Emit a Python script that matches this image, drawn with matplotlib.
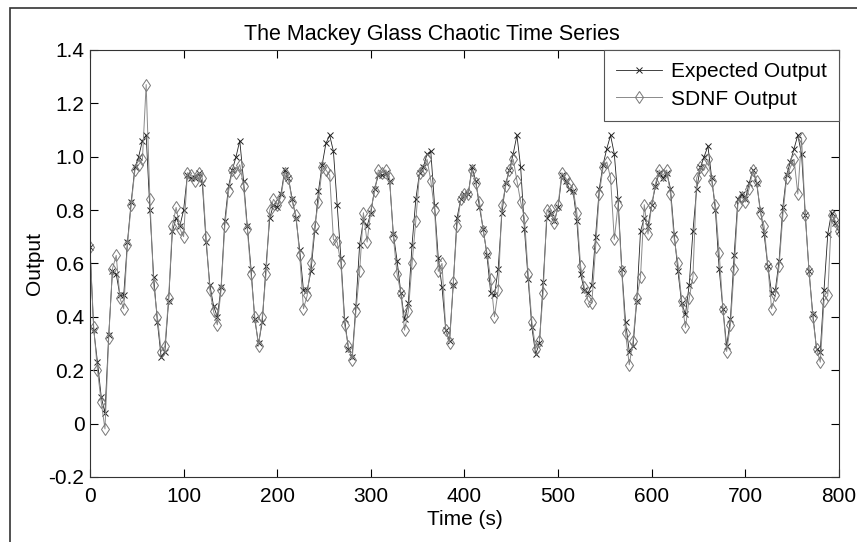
import matplotlib
matplotlib.use('Agg')
import matplotlib.pyplot as plt
from matplotlib.patches import Rectangle
import numpy as np

plt.rc('font', family=['Liberation Sans', 'DejaVu Sans'], size=15)

# tiempo (s), una muestra cada 4 s
time = np.arange(0, 801, 4)

expected = [
    0.66, 0.35, 0.23, 0.10, 0.04, 0.33, 0.57, 0.56, 0.48, 0.48,
    0.68, 0.83, 0.96, 1.00, 1.06, 1.08, 0.80, 0.55, 0.38, 0.25,
    0.27, 0.46, 0.72, 0.77, 0.74, 0.80, 0.93, 0.92, 0.92, 0.94,
    0.90, 0.68, 0.52, 0.44, 0.40, 0.51, 0.76, 0.89, 0.95, 1.00,
    1.06, 0.91, 0.74, 0.58, 0.39, 0.30, 0.38, 0.59, 0.77, 0.82,
    0.81, 0.86, 0.95, 0.92, 0.84, 0.77, 0.65, 0.50, 0.50, 0.57,
    0.72, 0.87, 0.97, 1.05, 1.08, 1.02, 0.82, 0.62, 0.39, 0.28,
    0.25, 0.44, 0.67, 0.76, 0.74, 0.79, 0.88, 0.93, 0.93, 0.94,
    0.91, 0.71, 0.61, 0.49, 0.39, 0.45, 0.67, 0.84, 0.94, 0.96,
    1.01, 1.02, 0.82, 0.62, 0.51, 0.35, 0.31, 0.52, 0.77, 0.84,
    0.86, 0.86, 0.96, 0.91, 0.81, 0.73, 0.63, 0.49, 0.48, 0.58,
    0.79, 0.90, 0.95, 1.01, 1.08, 0.96, 0.73, 0.54, 0.36, 0.26,
    0.30, 0.53, 0.77, 0.79, 0.76, 0.81, 0.93, 0.91, 0.88, 0.87,
    0.76, 0.56, 0.50, 0.49, 0.52, 0.70, 0.88, 0.97, 1.03, 1.08,
    1.01, 0.84, 0.58, 0.38, 0.27, 0.29, 0.46, 0.72, 0.77, 0.74,
    0.82, 0.89, 0.94, 0.92, 0.94, 0.88, 0.71, 0.57, 0.45, 0.41,
    0.52, 0.72, 0.88, 0.96, 1.00, 1.04, 0.92, 0.80, 0.58, 0.43,
    0.29, 0.39, 0.63, 0.84, 0.86, 0.84, 0.90, 0.95, 0.90, 0.80,
    0.71, 0.59, 0.49, 0.50, 0.61, 0.81, 0.93, 0.98, 1.03, 1.08,
    1.01, 0.78, 0.57, 0.41, 0.28, 0.27, 0.50, 0.71, 0.79, 0.75,
    0.72,
]

sdnf = [
    0.66, 0.36, 0.20, 0.08, -0.02, 0.32, 0.58, 0.63, 0.47, 0.43,
    0.67, 0.82, 0.95, 0.97, 0.99, 1.27, 0.84, 0.52, 0.40, 0.27,
    0.29, 0.47, 0.74, 0.81, 0.73, 0.70, 0.94, 0.93, 0.91, 0.94,
    0.92, 0.70, 0.50, 0.42, 0.37, 0.50, 0.74, 0.87, 0.95, 0.94,
    0.97, 0.89, 0.73, 0.56, 0.40, 0.29, 0.40, 0.56, 0.80, 0.84,
    0.82, 0.85, 0.94, 0.92, 0.83, 0.78, 0.63, 0.43, 0.48, 0.60,
    0.74, 0.83, 0.96, 0.95, 0.93, 0.69, 0.68, 0.60, 0.37, 0.29,
    0.24, 0.42, 0.57, 0.79, 0.68, 0.80, 0.87, 0.95, 0.94, 0.95,
    0.92, 0.70, 0.56, 0.49, 0.35, 0.42, 0.60, 0.76, 0.94, 0.95,
    0.99, 0.91, 0.80, 0.57, 0.60, 0.35, 0.30, 0.53, 0.74, 0.84,
    0.86, 0.86, 0.95, 0.90, 0.83, 0.72, 0.64, 0.54, 0.40, 0.50,
    0.82, 0.89, 0.95, 0.99, 0.91, 0.83, 0.77, 0.56, 0.38, 0.28,
    0.31, 0.49, 0.80, 0.80, 0.75, 0.82, 0.94, 0.92, 0.90, 0.88,
    0.79, 0.59, 0.51, 0.46, 0.45, 0.66, 0.86, 0.96, 0.98, 0.92,
    0.69, 0.82, 0.57, 0.34, 0.22, 0.31, 0.47, 0.55, 0.82, 0.71,
    0.82, 0.90, 0.95, 0.93, 0.95, 0.86, 0.69, 0.60, 0.46, 0.36,
    0.47, 0.55, 0.92, 0.96, 0.95, 0.99, 0.91, 0.82, 0.64, 0.43,
    0.27, 0.37, 0.58, 0.82, 0.85, 0.83, 0.88, 0.95, 0.91, 0.79,
    0.74, 0.59, 0.43, 0.48, 0.59, 0.78, 0.92, 0.96, 0.99, 0.86,
    1.07, 0.78, 0.57, 0.40, 0.28, 0.23, 0.46, 0.48, 0.78, 0.76,
    0.72,
]

xticks = [0, 100, 200, 300, 400, 500, 600, 700, 800]
yticks = [-0.2, 0, 0.2, 0.4, 0.6, 0.8, 1.0, 1.2, 1.4]
ylabels = ['-0.2', '0', '0.2', '0.4', '0.6', '0.8', '1.0', '1.2', '1.4']


def plotseries(name='out.png'):
    fig = plt.figure(figsize=(8.57, 5.42), dpi=100)
    ax = fig.add_axes([0.105, 0.12, 0.874, 0.788])
    # marco exterior de la figura (recortado en la imagen original)
    fig.add_artist(Rectangle((10/857, -0.1), 2.0, 1.1 - 8/542,
                             transform=fig.transFigure, fill=False,
                             lw=1.2, ec='#333333'))
    ax.plot(time, expected, '-', color='#222222', lw=0.6,
            marker='x', ms=4, mew=0.7, label='Expected Output')
    ax.plot(time, sdnf, '-', color='#8a8a8a', lw=0.7,
            marker='d', ms=6, mew=0.7, mfc='none', mec='#777777',
            label='SDNF Output')
    ax.set_xlim(0, 800)
    ax.set_ylim(-0.2, 1.4)
    ax.set_xticks(xticks)
    ax.set_yticks(yticks)
    ax.set_yticklabels(ylabels)
    ax.tick_params(direction='in', top=True, right=True, length=6,
                   width=0.8, labelsize=15)
    ax.tick_params(axis='x', pad=7)
    ax.tick_params(axis='y', pad=4)
    for s in ax.spines.values():
        s.set_linewidth(0.8)
        s.set_color('#333333')
    # el titulo en el original queda algo corrido a la izquierda
    ax.set_title('The Mackey Glass Chaotic Time Series', fontsize=15.5,
                 pad=7, x=0.457)
    ax.set_xlabel('Time (s)', fontsize=15, labelpad=3)
    ax.set_ylabel('Output', fontsize=15, labelpad=3)
    leg = ax.legend(loc='upper right', fancybox=False, framealpha=1,
                    edgecolor='#555555', fontsize=15, borderaxespad=0,
                    handlelength=2.2, handletextpad=0.4, borderpad=0.6,
                    labelspacing=0.4)
    leg.get_frame().set_linewidth(0.8)
    fig.savefig(name, dpi=100)
    return fig


if __name__ == '__main__':
    assert len(expected) == len(time) and len(sdnf) == len(time)
    plotseries()
